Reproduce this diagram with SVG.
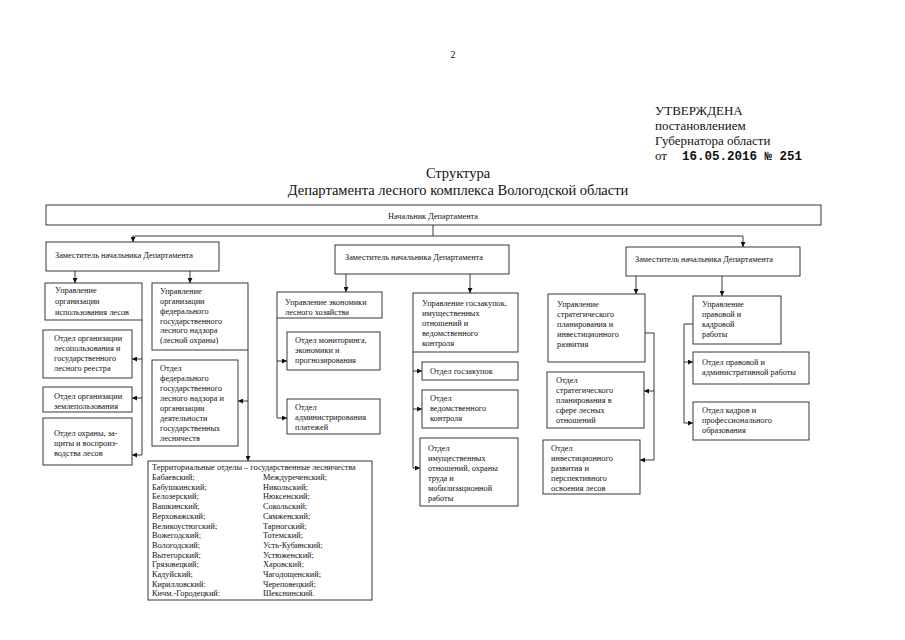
<svg xmlns="http://www.w3.org/2000/svg" width="905" height="640" viewBox="0 0 905 640">
<style>
.bg{fill:#fff}
.box{fill:#fff;stroke:#222;stroke-width:0.9}
.t{font-family:"Liberation Serif","Times New Roman",serif;font-size:8.3px;fill:#111}
.h{font-family:"Liberation Serif","Times New Roman",serif;font-size:13px;fill:#111}
.ti{font-family:"Liberation Serif","Times New Roman",serif;font-size:14.5px;fill:#111;text-anchor:middle}
.m{font-family:"Liberation Mono","Courier New",monospace;font-size:12.5px;font-weight:bold;fill:#111}
.ln{fill:none;stroke:#222;stroke-width:0.9}
.ar{fill:none;stroke:#222;stroke-width:0.9;marker-end:url(#ah)}
</style>
<defs>
<marker id="ah" viewBox="0 0 10 10" refX="10" refY="5" markerWidth="5" markerHeight="5" markerUnits="userSpaceOnUse" orient="auto">
<path d="M0,0 L10,5 L0,10 z" fill="#111"/>
</marker>
</defs>
<rect class="bg" x="0" y="0" width="905" height="640"/>

<g id="header">
<text x="453" y="58" class="t" style="font-size:10px" text-anchor="middle">2</text>
<text x="655" y="115" class="h">УТВЕРЖДЕНА</text>
<text x="655" y="130" class="h">постановлением</text>
<text x="655" y="145" class="h">Губернатора  области</text>
<text x="655" y="160" class="h">от</text>
<text x="682" y="160" class="m">16.05.2016 № 251</text>
<text x="458" y="178" class="ti">Структура</text>
<text x="458" y="195" class="ti">Департамента лесного комплекса Вологодской области</text>
</g>

<g id="connectors">
<path class="ln" d="M433,225 V236"/>
<path class="ar" d="M433,236 H133 V242"/>
<path class="ar" d="M433,236 H743 V247"/>
<path class="ar" d="M75,271 V283"/>
<path class="ar" d="M190,271 V283"/>
<path class="ln" d="M142,320 V455"/>
<path class="ar" d="M142,359 H132"/>
<path class="ar" d="M142,398 H132"/>
<path class="ar" d="M142,455 H132"/>
<path class="ar" d="M248,350 V461"/>
<path class="ar" d="M248,401 H238"/>
<path class="ar" d="M346,274 V292"/>
<path class="ar" d="M470,274 V293"/>
<path class="ln" d="M277,318 V418"/>
<path class="ar" d="M277,361 H287"/>
<path class="ar" d="M277,418 H287"/>
<path class="ln" d="M413,352 V468"/>
<path class="ar" d="M413,371 H422"/>
<path class="ar" d="M413,409 H422"/>
<path class="ar" d="M413,468 H420"/>
<path class="ar" d="M636,276 V294"/>
<path class="ar" d="M722,276 V296"/>
<path class="ln" d="M645,333 H654 V460"/>
<path class="ar" d="M654,391 H644"/>
<path class="ar" d="M654,460 H640"/>
<path class="ln" d="M693,324 H684 V423"/>
<path class="ar" d="M684,362 H693"/>
<path class="ar" d="M684,423 H693"/>
</g>

<g id="head">
<rect class="box" x="46" y="205" width="775" height="20"/>
<text x="388" y="219" class="t">Начальник Департамента</text>
</g>

<g id="deputy1">
<rect class="box" x="46" y="242" width="173" height="29"/>
<text x="55" y="258" class="t">Заместитель начальника Департамента</text>
</g>
<g id="deputy2">
<rect class="box" x="335" y="245" width="174" height="29"/>
<text x="345" y="260" class="t">Заместитель начальника Департамента</text>
</g>
<g id="deputy3">
<rect class="box" x="626" y="247" width="174" height="29"/>
<text x="635" y="262" class="t">Заместитель начальника Департамента</text>
</g>

<g id="a1">
<rect class="box" x="45" y="283" width="97" height="37"/>
<text class="t"><tspan x="55" y="293">Управление</tspan><tspan x="55" y="304">организации</tspan><tspan x="55" y="315">использования лесов</tspan></text>
</g>
<g id="a2">
<rect class="box" x="152" y="283" width="96" height="67"/>
<text class="t"><tspan x="160" y="294">Управление</tspan><tspan x="160" y="304">организации</tspan><tspan x="160" y="314">федерального</tspan><tspan x="160" y="324">государственного</tspan><tspan x="160" y="333">лесного надзора</tspan><tspan x="160" y="343">(лесной охраны)</tspan></text>
</g>
<g id="b1">
<rect class="box" x="43" y="330" width="89" height="48"/>
<text class="t"><tspan x="54" y="341">Отдел организации</tspan><tspan x="54" y="351">лесопользования и</tspan><tspan x="54" y="361">государственного</tspan><tspan x="54" y="371">лесного реестра</tspan></text>
</g>
<g id="b2">
<rect class="box" x="43" y="387" width="89" height="25"/>
<text class="t"><tspan x="54" y="399">Отдел организации</tspan><tspan x="54" y="409">землепользования</tspan></text>
</g>
<g id="b3">
<rect class="box" x="43" y="418" width="89" height="47"/>
<text class="t"><tspan x="54" y="436">Отдел охраны, за-</tspan><tspan x="54" y="446">щиты и воспроиз-</tspan><tspan x="54" y="456">водства лесов</tspan></text>
</g>
<g id="c1">
<rect class="box" x="152" y="360" width="86" height="86"/>
<text class="t"><tspan x="160" y="371">Отдел</tspan><tspan x="160" y="381">федерального</tspan><tspan x="160" y="391">государственного</tspan><tspan x="160" y="401">лесного надзора и</tspan><tspan x="160" y="411">организации</tspan><tspan x="160" y="421">деятельности</tspan><tspan x="160" y="431">государственных</tspan><tspan x="160" y="441">лесничеств</tspan></text>
</g>
<g id="territorial">
<rect class="box" x="148" y="461" width="224" height="139"/>
<text x="152" y="470" class="t">Территориальные отделы – государственные лесничества</text>
<text class="t"><tspan x="152" y="480">Бабаевский;</tspan><tspan x="152" y="489.7">Бабушкинский;</tspan><tspan x="152" y="499.4">Белозерский;</tspan><tspan x="152" y="509.1">Вашкинский;</tspan><tspan x="152" y="518.8">Верховажский;</tspan><tspan x="152" y="528.5">Великоустюгский;</tspan><tspan x="152" y="538.2">Вожегодский;</tspan><tspan x="152" y="547.9">Вологодский;</tspan><tspan x="152" y="557.6">Вытегорский;</tspan><tspan x="152" y="567.3">Грязовецкий;</tspan><tspan x="152" y="577">Кадуйский;</tspan><tspan x="152" y="586.7">Кирилловский:</tspan><tspan x="152" y="596.4">Кичм.-Городецкий:</tspan></text>
<text class="t"><tspan x="263" y="480">Междуреченский;</tspan><tspan x="263" y="489.7">Никольский;</tspan><tspan x="263" y="499.4">Нюксенский;</tspan><tspan x="263" y="509.1">Сокольский;</tspan><tspan x="263" y="518.8">Сямженский;</tspan><tspan x="263" y="528.5">Тарногский;</tspan><tspan x="263" y="538.2">Тотемский;</tspan><tspan x="263" y="547.9">Усть-Кубинский;</tspan><tspan x="263" y="557.6">Устюженский;</tspan><tspan x="263" y="567.3">Харовский;</tspan><tspan x="263" y="577">Чагодощенский;</tspan><tspan x="263" y="586.7">Череповецкий;</tspan><tspan x="263" y="596.4">Шекснинский.</tspan></text>
</g>

<g id="m1">
<rect class="box" x="277" y="292" width="105" height="26"/>
<text class="t"><tspan x="285" y="305">Управление экономики</tspan><tspan x="285" y="315">лесного хозяйства</tspan></text>
</g>
<g id="m2">
<rect class="box" x="413" y="293" width="105" height="59"/>
<text class="t"><tspan x="422" y="306">Управление госзакупок,</tspan><tspan x="422" y="316">имущественных</tspan><tspan x="422" y="326">отношений и</tspan><tspan x="422" y="336">ведомственного</tspan><tspan x="422" y="346">контроля</tspan></text>
</g>
<g id="m3">
<rect class="box" x="287" y="332" width="93" height="38"/>
<text class="t"><tspan x="295" y="343">Отдел мониторинга,</tspan><tspan x="295" y="353">экономики и</tspan><tspan x="295" y="363">прогнозирования</tspan></text>
</g>
<g id="m4">
<rect class="box" x="287" y="399" width="93" height="35"/>
<text class="t"><tspan x="295" y="410">Отдел</tspan><tspan x="295" y="420">администрирования</tspan><tspan x="295" y="430">платежей</tspan></text>
</g>
<g id="m5">
<rect class="box" x="422" y="362" width="96" height="18"/>
<text x="430" y="374" class="t">Отдел госзакупок</text>
</g>
<g id="m6">
<rect class="box" x="422" y="390" width="96" height="38"/>
<text class="t"><tspan x="430" y="401">Отдел</tspan><tspan x="430" y="411">ведомственного</tspan><tspan x="430" y="421">контроля</tspan></text>
</g>
<g id="m7">
<rect class="box" x="420" y="438" width="98" height="68"/>
<text class="t"><tspan x="428" y="451">Отдел</tspan><tspan x="428" y="461">имущественных</tspan><tspan x="428" y="471">отношений, охраны</tspan><tspan x="428" y="481">труда и</tspan><tspan x="428" y="491">мобилизационной</tspan><tspan x="428" y="501">работы</tspan></text>
</g>

<g id="r1">
<rect class="box" x="548" y="294" width="97" height="68"/>
<text class="t"><tspan x="557" y="307">Управление</tspan><tspan x="557" y="317">стратегического</tspan><tspan x="557" y="327">планирования и</tspan><tspan x="557" y="337">инвестиционного</tspan><tspan x="557" y="347">развития</tspan></text>
</g>
<g id="r2">
<rect class="box" x="547" y="372" width="97" height="56"/>
<text class="t"><tspan x="556" y="383">Отдел</tspan><tspan x="556" y="393">стратегического</tspan><tspan x="556" y="403">планирования в</tspan><tspan x="556" y="413">сфере лесных</tspan><tspan x="556" y="423">отношений</tspan></text>
</g>
<g id="r3">
<rect class="box" x="543" y="440" width="97" height="54"/>
<text class="t"><tspan x="551" y="451">Отдел</tspan><tspan x="551" y="461">инвестиционного</tspan><tspan x="551" y="471">развития и</tspan><tspan x="551" y="481">перспективного</tspan><tspan x="551" y="491">освоения лесов</tspan></text>
</g>
<g id="r4">
<rect class="box" x="693" y="296" width="88" height="48"/>
<text class="t"><tspan x="702" y="307">Управление</tspan><tspan x="702" y="317">правовой и</tspan><tspan x="702" y="327">кадровой</tspan><tspan x="702" y="337">работы</tspan></text>
</g>
<g id="r5">
<rect class="box" x="693" y="352" width="116" height="32"/>
<text class="t"><tspan x="702" y="365">Отдел правовой и</tspan><tspan x="702" y="375">административной работы</tspan></text>
</g>
<g id="r6">
<rect class="box" x="693" y="402" width="116" height="38"/>
<text class="t"><tspan x="702" y="413">Отдел кадров и</tspan><tspan x="702" y="423">профессионального</tspan><tspan x="702" y="433">образования</tspan></text>
</g>
</svg>
